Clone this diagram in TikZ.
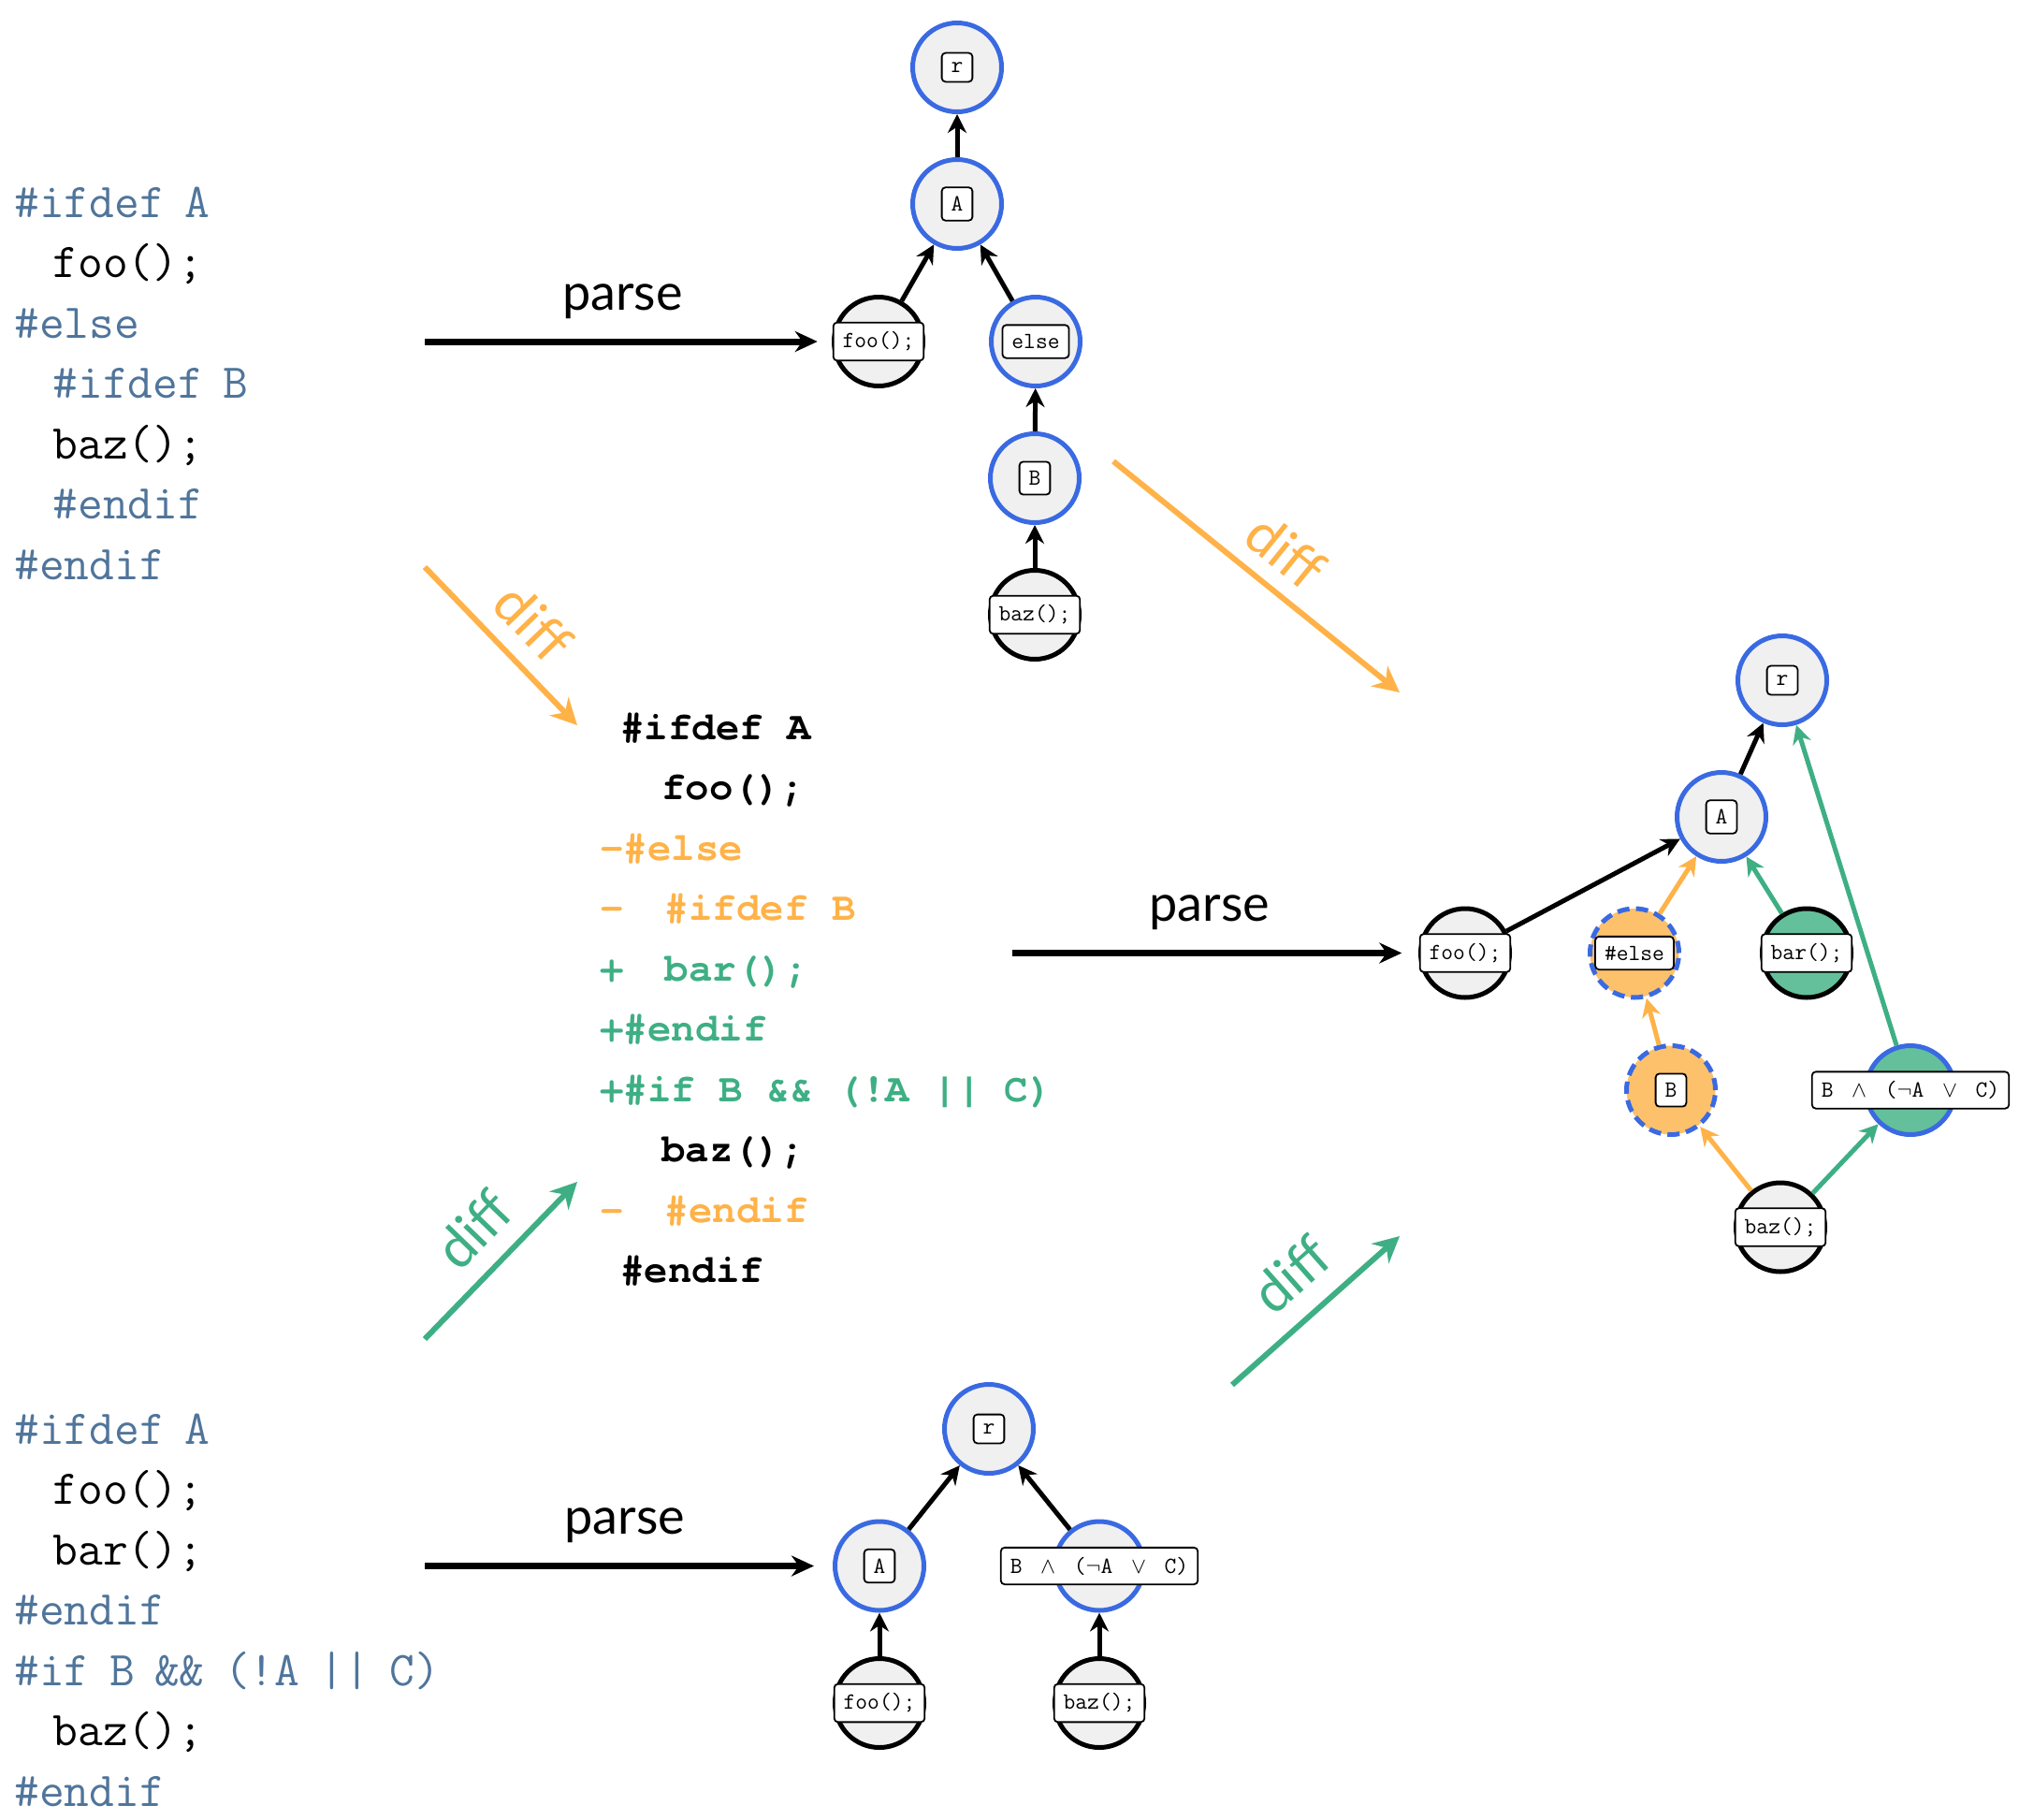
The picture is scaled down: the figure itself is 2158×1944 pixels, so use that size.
\documentclass[tikz,border=0pt]{standalone}
\usepackage{fontspec}
\usetikzlibrary{arrows.meta}

\newfontfamily\labelfont{Lato}
\newfontfamily\patchfont{texgyrecursor}[Extension=.otf,UprightFont=*-regular,BoldFont=*-bold]

\definecolor{varblue}{RGB}{58,106,226}
\definecolor{remorange}{RGB}{255,178,72}
\definecolor{remfill}{RGB}{253,193,108}
\definecolor{addgreen}{RGB}{62,175,132}
\definecolor{addfill}{RGB}{100,192,154}
\definecolor{cppslate}{RGB}{80,117,155}
\definecolor{astgray}{RGB}{240,240,240}

\newcommand{\ind}{\hspace*{0.79em}}
\newcommand{\spc}{\hspace*{0.41em}}
\newcommand{\sk}{\hspace*{0.52em}}
\newcommand{\cpp}[1]{\textcolor{cppslate}{#1}}

\tikzset{
  astnode/.style={circle,minimum size=47.5pt,inner sep=0pt,line width=2.5pt,fill=astgray},
  artifact/.style={astnode,draw=black},
  mapping/.style={astnode,draw=varblue},
  remnode/.style={astnode,draw=varblue,fill=remfill,dash pattern=on 6.5pt off 3.5pt},
  addartifact/.style={artifact,fill=addfill},
  addmapping/.style={mapping,fill=addfill},
  tag/.style={draw,fill=white,rounded corners=2pt,line width=0.9pt,inner sep=5pt,font=\ttfamily\fontsize{12.4}{14}\selectfont},
  astedge/.style={line width=2.5pt,-{Stealth[length=10pt,width=10pt]}},
  parsearrow/.style={line width=3.5pt,-{Stealth[length=12pt,width=11pt]}},
  diffarrow/.style={line width=3pt,-{Stealth[length=14pt,width=14pt]}},
  parselabel/.style={inner sep=0pt,font=\labelfont\fontsize{27}{30}\selectfont},
  difflabel/.style={inner sep=0pt,font=\labelfont\fontsize{30}{32}\selectfont},
  code/.style={anchor=base west,inner sep=0pt,align=left},
  srccode/.style={code,font=\ttfamily\fontsize{26}{32.25}\selectfont},
}

\begin{document}
\begin{tikzpicture}[x=0.5pt,y=0.5pt,yscale=-1]
\useasboundingbox (0,0) rectangle (2158,1944);

% Text Node: source before (anchored at the baseline of its last line)
\node[srccode] (srcbefore) at (15,619) {%
  \cpp{\#ifdef\spc A}\\
  \ind foo();\\
  \cpp{\#else}\\
  \ind\cpp{\#ifdef\spc B}\\
  \ind baz();\\
  \ind\cpp{\#endif}\\
  \cpp{\#endif}};

% Text Node: the patch
\node[code,font=\patchfont\bfseries\fontsize{21.2}{32.25}\selectfont] (patch) at (641,1370.5) {%
  \sk\#ifdef~A\\
  \sk\sk\sk foo();\\
  \textcolor{remorange}{-\#else}\\
  \textcolor{remorange}{-\sk\sk\#ifdef~B}\\
  \textcolor{addgreen}{+\sk\sk bar();}\\
  \textcolor{addgreen}{+\#endif}\\
  \textcolor{addgreen}{+\#if~B~\&\&~(!A~||~C)}\\
  \sk\sk\sk baz();\\
  \textcolor{remorange}{-\sk\sk\#endif}\\
  \sk\#endif};

% Text Node: source after
\node[srccode] (srcafter) at (15,1930) {%
  \cpp{\#ifdef\spc A}\\
  \ind foo();\\
  \ind bar();\\
  \cpp{\#endif}\\
  \cpp{\#if\spc B\spc\&\&\spc(!A\spc||\spc C)}\\
  \ind baz();\\
  \cpp{\#endif}};

%Shape: Circle -- tree before
\node[mapping] (r1) at (1023,72) {};
\node[mapping] (a1) at (1023,218) {};
\node[artifact] (foo1) at (939,365) {};
\node[mapping] (else1) at (1107,365) {};
\node[mapping] (b1) at (1106,511) {};
\node[artifact] (baz1) at (1106,657) {};

\draw[astedge] (a1) -- (r1);
\draw[astedge] (foo1) -- (a1);
\draw[astedge] (else1) -- (a1);
\draw[astedge] (b1) -- (else1);
\draw[astedge] (baz1) -- (b1);

\node[tag] (r1l) at (r1) {r};
\node[tag] (a1l) at (a1) {A};
\node[tag] (foo1l) at (foo1) {foo();};
\node[tag] (else1l) at (else1) {else};
\node[tag] (b1l) at (b1) {B};
\node[tag] (baz1l) at (baz1) {baz();};

%Shape: Circle -- diffed tree
\node[mapping] (r2) at (1905,727) {};
\node[mapping] (a2) at (1840,873) {};
\node[artifact] (foo2) at (1566,1018.5) {};
\node[remnode] (else2) at (1747,1018.5) {};
\node[addartifact] (bar2) at (1931,1018.5) {};
\node[remnode] (b2) at (1786,1165) {};
\node[addmapping] (bform2) at (2042,1165) {};
\node[artifact] (baz2) at (1903,1311.5) {};

\draw[astedge] (a2) -- (r2);
\draw[astedge] (foo2) -- (a2);
\draw[astedge,remorange] (else2) -- (a2);
\draw[astedge,remorange] (b2) -- (else2);
\draw[astedge,remorange] (baz2) -- (b2);
\draw[astedge,addgreen] (bar2) -- (a2);
\draw[astedge,addgreen] (baz2) -- (bform2);
\draw[astedge,addgreen] (bform2) -- (r2);

\node[tag] (r2l) at (r2) {r};
\node[tag] (a2l) at (a2) {A};
\node[tag] (foo2l) at (foo2) {foo();};
\node[tag] (else2l) at (else2) {\#else};
\node[tag] (bar2l) at (bar2) {bar();};
\node[tag] (b2l) at (b2) {B};
\node[tag] (bform2l) at (bform2) {B~\;$\land$\;~($\lnot$A~\;$\lor$\;~C)};
\node[tag] (baz2l) at (baz2) {baz();};

%Shape: Circle -- tree after
\node[mapping] (r3) at (1057,1527) {};
\node[mapping] (a3) at (940,1673.5) {};
\node[mapping] (bform3) at (1175,1673.5) {};
\node[artifact] (foo3) at (940,1820) {};
\node[artifact] (baz3) at (1175,1820) {};

\draw[astedge] (a3) -- (r3);
\draw[astedge] (bform3) -- (r3);
\draw[astedge] (foo3) -- (a3);
\draw[astedge] (baz3) -- (bform3);

\node[tag] (r3l) at (r3) {r};
\node[tag] (a3l) at (a3) {A};
\node[tag] (bform3l) at (bform3) {B~\;$\land$\;~($\lnot$A~\;$\lor$\;~C)};
\node[tag] (foo3l) at (foo3) {foo();};
\node[tag] (baz3l) at (baz3) {baz();};

%Straight Lines -- parse
\coordinate (parse1s) at (454,365);
\coordinate (parse2s) at (1082,1018.5);
\coordinate (parse3s) at (454,1673.5);
\draw[parsearrow,shorten >=8pt] (parse1s) -- node[parselabel,above=10.5pt,pos=0.485] (parse1) {parse} (foo1l);
\draw[parsearrow,shorten >=9.25pt] (parse2s) -- node[parselabel,above=10.5pt,pos=0.485] (parse2) {parse} (foo2l);
\draw[parsearrow,shorten >=10pt] (parse3s) -- node[parselabel,above=10.5pt,pos=0.49] (parse3) {parse} (a3);

%Straight Lines -- diff
\coordinate (diff1s) at (454,606);
\coordinate (diff1e) at (617,775);
\coordinate (diff2s) at (1190,493);
\coordinate (diff2e) at (1496,740);
\coordinate (diff3s) at (454,1431);
\coordinate (diff3e) at (617,1263);
\coordinate (diff4s) at (1317,1480);
\coordinate (diff4e) at (1496,1321);
\draw[diffarrow,remorange] (diff1s) -- (diff1e);
\draw[diffarrow,remorange] (diff2s) -- (diff2e);
\draw[diffarrow,addgreen] (diff3s) -- (diff3e);
\draw[diffarrow,addgreen] (diff4s) -- (diff4e);

% Text Node: diff labels
\node[difflabel,rotate=-46,text=remorange] (diff1) at (570,665) {diff};
\node[difflabel,rotate=-39,text=remorange] (diff2) at (1374,589) {diff};
\node[difflabel,rotate=46,text=addgreen] (diff3) at (506,1314) {diff};
\node[difflabel,rotate=41.5,text=addgreen] (diff4) at (1380,1362) {diff};

\end{tikzpicture}
\end{document}
